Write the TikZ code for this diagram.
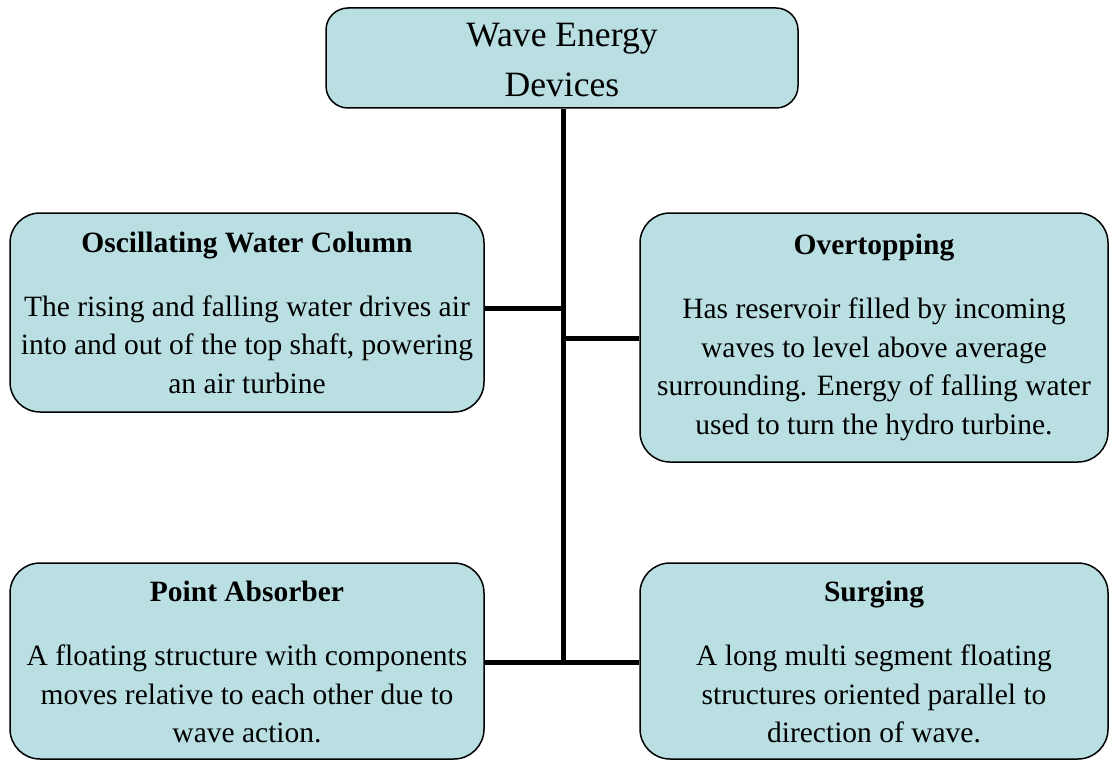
\documentclass[tikz,border=0pt]{standalone}
\usepackage{fontspec}
\setmainfont{Liberation Serif}
\usepackage{tikz}

\definecolor{azulcaja}{RGB}{185,223,227}

\tikzset{
  caja/.style={draw, line width=1.5pt, fill=azulcaja, rounded corners=30pt,
    align=center, inner sep=0pt, font=\fontsize{29.5}{38.5}\selectfont},
  linea/.style={line width=5pt}
}

\begin{document}
\begin{tikzpicture}[x=1pt,y=-1pt]
		\useasboundingbox (0,0) rectangle (1110,762);

		%Nodos
		\node [caja, rounded corners=22pt, minimum width=472pt, minimum height=100pt,
			font=\fontsize{35.6}{50}\selectfont] (nodo0) at (562,58) {\rule{0pt}{28pt}Wave Energy\\Devices};
		\node [caja, minimum width=474pt, minimum height=199pt] (nodo1) at (247,312.5)
			{\textbf{Oscillating Water Column}\\[25.5pt]The rising and falling water drives air\\into and out of the top shaft, powering\\an air turbine};
		\node [caja, minimum width=468pt, minimum height=249pt] (nodo2) at (874,337.5)
			{\textbf{Overtopping}\\[25.5pt]Has reservoir filled by incoming\\waves to level above average\\surrounding. Energy of falling water\\used to turn the hydro turbine.};
		\node [caja, minimum width=474pt, minimum height=196pt] (nodo3) at (247,661)
			{\rule{0pt}{23pt}\textbf{Point Absorber}\\[25.5pt]A floating structure with components\\moves relative to each other due to\\wave action.};
		\node [caja, minimum width=468pt, minimum height=196pt] (nodo4) at (874,661)
			{\rule{0pt}{23pt}\textbf{Surging}\\[25.5pt]A long multi segment floating\\structures oriented parallel to\\direction of wave.};

		\coordinate (union1) at (563,308);
		\coordinate (union2) at (563,338);
		\coordinate (union3) at (563,662);

		%Arcos
		\draw[linea] (nodo0.south -| union3) -- (union3);
		\draw[linea] (nodo1.east |- union1) -- (union1);
		\draw[linea] (nodo2.west |- union2) -- (union2);
		\draw[linea] (nodo3.east |- union3) -- (nodo4.west |- union3);
\end{tikzpicture}
\end{document}
